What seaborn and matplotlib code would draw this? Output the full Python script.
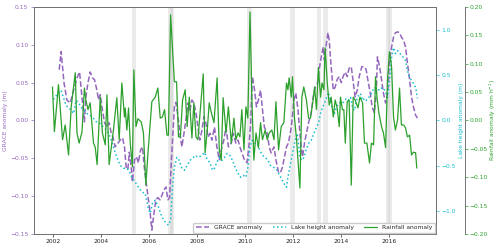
import pandas as pd
import seaborn as sns
import matplotlib
matplotlib.use('Agg')
import matplotlib.pyplot as plt

# GRACE anomaly (m), decimal years
grace_t = [2002.25, 2002.33, 2002.45, 2002.57, 2002.71, 2002.85, 2002.99, 2003.10, 2003.17, 2003.24,
           2003.30, 2003.36, 2003.45, 2003.54, 2003.64, 2003.72, 2003.82, 2003.89, 2003.96, 2004.05,
           2004.14, 2004.24, 2004.33, 2004.42, 2004.49, 2004.58, 2004.70, 2004.79, 2004.89, 2004.97,
           2005.04, 2005.11, 2005.17, 2005.25, 2005.30, 2005.39, 2005.47, 2005.55, 2005.64, 2005.72,
           2005.80, 2005.86, 2005.95, 2006.04, 2006.11, 2006.20, 2006.28, 2006.36, 2006.45, 2006.53,
           2006.61, 2006.70, 2006.78, 2006.85, 2006.92, 2006.99, 2007.05, 2007.11, 2007.20, 2007.28,
           2007.36, 2007.45, 2007.53, 2007.61, 2007.70, 2007.78, 2007.86, 2007.95, 2008.03, 2008.11,
           2008.20, 2008.28, 2008.36, 2008.45, 2008.54, 2008.61, 2008.72, 2008.82, 2008.92, 2009.03,
           2009.11, 2009.20, 2009.30, 2009.42, 2009.50, 2009.61, 2009.70, 2009.78, 2009.86, 2009.97,
           2010.07, 2010.14, 2010.22, 2010.30, 2010.39, 2010.47, 2010.55, 2010.64, 2010.72, 2010.80,
           2010.92, 2011.00, 2011.08, 2011.20, 2011.28, 2011.39, 2011.47, 2011.55, 2011.64, 2011.72,
           2011.80, 2011.92, 2012.03, 2012.11, 2012.20, 2012.28, 2012.33, 2012.39, 2012.47, 2012.55,
           2012.67, 2012.75, 2012.83, 2012.92, 2013.00, 2013.08, 2013.17, 2013.25, 2013.30, 2013.36,
           2013.45, 2013.50, 2013.58, 2013.67, 2013.75, 2013.83, 2013.92, 2014.00, 2014.08, 2014.17,
           2014.25, 2014.33, 2014.42, 2014.50, 2014.58, 2014.67, 2014.75, 2014.86, 2014.96, 2015.04,
           2015.13, 2015.21, 2015.29, 2015.38, 2015.46, 2015.51, 2015.60, 2015.68, 2015.76, 2015.85,
           2015.93, 2016.01, 2016.10, 2016.18, 2016.26, 2016.35, 2016.43, 2016.51, 2016.60, 2016.68,
           2016.76, 2016.85, 2016.93, 2017.01, 2017.10, 2017.18]
grace_v = [0.067, 0.091, 0.050, 0.027, 0.023, 0.040, 0.056, 0.064, 0.040, 0.018,
           -0.002, 0.031, 0.050, 0.064, 0.056, 0.054, 0.040, 0.027, 0.034, 0.014,
           -0.003, -0.009, -0.003, -0.017, -0.022, -0.035, -0.030, -0.026, -0.023, -0.035,
           -0.062, -0.065, -0.042, -0.062, -0.081, -0.052, -0.048, -0.056, -0.039, -0.035,
           -0.063, -0.079, -0.101, -0.122, -0.145, -0.122, -0.105, -0.102, -0.105, -0.099,
           -0.092, -0.088, -0.105, -0.102, -0.056, -0.017, 0.018, 0.024, 0.005, -0.017,
           -0.035, -0.017, 0.001, 0.023, 0.014, 0.027, 0.023, 0.010, -0.009, -0.026,
           -0.013, 0.005, -0.003, -0.022, -0.017, -0.026, -0.009, -0.035, -0.052, -0.035,
           -0.026, -0.009, -0.035, -0.030, -0.017, -0.030, -0.026, -0.035, -0.043, -0.052,
           -0.056, -0.039, -0.009, 0.058, 0.040, 0.018, 0.027, 0.040, 0.014, -0.009,
           -0.017, -0.035, -0.043, -0.035, -0.052, -0.069, -0.069, -0.062, -0.048, -0.035,
           -0.030, -0.009, 0.027, 0.036, 0.014, -0.017, -0.035, -0.048, -0.030, -0.017,
           0.001, 0.010, 0.031, 0.044, 0.047, 0.067, 0.084, 0.097, 0.080, 0.097,
           0.116, 0.106, 0.071, 0.040, 0.044, 0.054, 0.058, 0.050, 0.058, 0.064,
           0.058, 0.069, 0.071, 0.051, 0.031, 0.040, 0.058, 0.071, 0.071, 0.067,
           0.050, 0.036, 0.018, 0.010, 0.036, 0.084, 0.071, 0.054, 0.036, 0.023,
           0.036, 0.080, 0.097, 0.110, 0.116, 0.117, 0.116, 0.110, 0.106, 0.097,
           0.076, 0.054, 0.031, 0.018, 0.007, 0.003]

# Lake height anomaly (m)
lake_t = [2002.01, 2002.13, 2002.22, 2002.33, 2002.43, 2002.53, 2002.64, 2002.75, 2002.85, 2002.95,
          2003.05, 2003.17, 2003.28, 2003.40, 2003.54, 2003.68, 2003.82, 2003.96, 2004.10, 2004.24,
          2004.38, 2004.51, 2004.65, 2004.79, 2004.93, 2005.07, 2005.14, 2005.28, 2005.42, 2005.55,
          2005.70, 2005.83, 2005.95, 2006.04, 2006.14, 2006.25, 2006.39, 2006.53, 2006.67, 2006.80,
          2006.89, 2006.97, 2007.05, 2007.15, 2007.25, 2007.36, 2007.47, 2007.58, 2007.70, 2007.80,
          2007.92, 2008.05, 2008.20, 2008.30, 2008.40, 2008.54, 2008.64, 2008.72, 2008.80, 2008.92,
          2009.03, 2009.14, 2009.25, 2009.36, 2009.47, 2009.58, 2009.70, 2009.80, 2009.92, 2010.03,
          2010.11, 2010.20, 2010.28, 2010.39, 2010.50, 2010.61, 2010.72, 2010.83, 2010.95, 2011.05,
          2011.17, 2011.28, 2011.39, 2011.50, 2011.61, 2011.72, 2011.78, 2011.89, 2012.00, 2012.08,
          2012.17, 2012.22, 2012.28, 2012.36, 2012.45, 2012.53, 2012.64, 2012.75, 2012.86, 2012.97,
          2013.05, 2013.14, 2013.22, 2013.30, 2013.39, 2013.47, 2013.55, 2013.64, 2013.72, 2013.80,
          2013.89, 2013.97, 2014.05, 2014.14, 2014.22, 2014.30, 2014.39, 2014.47, 2014.55, 2014.64,
          2014.72, 2014.80, 2014.89, 2014.97, 2015.04, 2015.15, 2015.26, 2015.38, 2015.49, 2015.60,
          2015.71, 2015.82, 2015.93, 2016.01, 2016.10, 2016.18, 2016.26, 2016.35, 2016.43, 2016.51,
          2016.60, 2016.68, 2016.76, 2016.85, 2016.93, 2017.01, 2017.10, 2017.18]
lake_v = [0.231, 0.275, 0.308, 0.330, 0.253, 0.165, 0.143, 0.110, 0.077, 0.220,
          0.198, 0.143, 0.110, 0.077, 0.055, 0.022, -0.022, -0.033, -0.077, -0.110,
          -0.187, -0.297, -0.407, -0.495, -0.527, -0.527, -0.549, -0.626, -0.681, -0.736,
          -0.791, -0.802, -0.956, -1.022, -0.912, -0.879, -0.956, -1.066, -1.121, -1.154,
          -1.099, -0.736, -0.516, -0.407, -0.440, -0.527, -0.549, -0.495, -0.440, -0.418,
          -0.385, -0.407, -0.385, -0.352, -0.418, -0.473, -0.549, -0.527, -0.473, -0.407,
          -0.440, -0.407, -0.363, -0.385, -0.440, -0.516, -0.582, -0.626, -0.604, -0.626,
          -0.516, -0.297, -0.220, -0.253, -0.253, -0.330, -0.385, -0.407, -0.440, -0.495,
          -0.516, -0.527, -0.582, -0.637, -0.692, -0.736, -0.626, -0.473, -0.330, -0.220,
          -0.143, -0.253, -0.407, -0.440, -0.407, -0.330, -0.253, -0.220, -0.143, -0.077,
          -0.033, 0.077, 0.143, 0.187, 0.253, 0.308, 0.220, 0.110, 0.077, 0.143,
          0.187, 0.198, 0.187, 0.220, 0.242, 0.220, 0.253, 0.143, 0.110, 0.220,
          0.275, 0.297, 0.220, 0.242, 0.220, 0.253, 0.297, 0.363, 0.352, 0.330,
          0.363, 0.330, 0.253, 0.440, 0.692, 0.802, 0.736, 0.769, 0.747, 0.714,
          0.692, 0.659, 0.549, 0.473, 0.440, 0.407, 0.363, 0.242]

# Rainfall anomaly (mm/h)
rain_t = [2001.97, 2002.05, 2002.22, 2002.39, 2002.50, 2002.64, 2002.75, 2002.92, 2002.99, 2003.08,
          2003.20, 2003.30, 2003.36, 2003.45, 2003.54, 2003.68, 2003.75, 2003.83, 2003.96, 2004.05,
          2004.17, 2004.24, 2004.33, 2004.51, 2004.65, 2004.75, 2004.86, 2004.97, 2005.00, 2005.07,
          2005.14, 2005.21, 2005.30, 2005.36, 2005.45, 2005.53, 2005.67, 2005.76, 2005.86, 2005.95,
          2006.11, 2006.25, 2006.36, 2006.46, 2006.55, 2006.64, 2006.74, 2006.80, 2006.89, 2007.05,
          2007.14, 2007.22, 2007.30, 2007.39, 2007.50, 2007.58, 2007.67, 2007.78, 2007.86, 2007.95,
          2008.03, 2008.14, 2008.25, 2008.33, 2008.42, 2008.50, 2008.58, 2008.70, 2008.83, 2008.92,
          2009.00, 2009.08, 2009.20, 2009.30, 2009.42, 2009.53, 2009.61, 2009.70, 2009.78, 2009.86,
          2009.95, 2010.03, 2010.11, 2010.20, 2010.28, 2010.36, 2010.45, 2010.55, 2010.64, 2010.72,
          2010.83, 2010.92, 2011.00, 2011.11, 2011.20, 2011.28, 2011.39, 2011.50, 2011.61, 2011.72,
          2011.78, 2011.83, 2011.92, 2011.97, 2012.05, 2012.14, 2012.20, 2012.28, 2012.36, 2012.44,
          2012.55, 2012.64, 2012.72, 2012.83, 2012.89, 2012.97, 2013.05, 2013.14, 2013.20, 2013.28,
          2013.33, 2013.42, 2013.50, 2013.58, 2013.67, 2013.75, 2013.83, 2013.92, 2013.97, 2014.05,
          2014.11, 2014.17, 2014.25, 2014.33, 2014.42, 2014.50, 2014.58, 2014.70, 2014.78, 2014.89,
          2014.97, 2015.07, 2015.18, 2015.26, 2015.35, 2015.43, 2015.49, 2015.57, 2015.68, 2015.76,
          2015.85, 2015.93, 2016.01, 2016.10, 2016.18, 2016.26, 2016.35, 2016.43, 2016.51, 2016.60,
          2016.68, 2016.76, 2016.85, 2016.93, 2017.01, 2017.10, 2017.15]
rain_v = [0.059, -0.020, 0.063, -0.034, -0.008, -0.061, 0.024, 0.084, -0.022, -0.040,
          -0.020, 0.057, 0.036, 0.019, 0.031, -0.040, -0.047, -0.078, 0.041, -0.022,
          -0.043, 0.045, -0.078, -0.017, 0.040, -0.034, 0.066, 0.006, 0.022, -0.017,
          0.022, -0.040, -0.082, 0.089, -0.011, 0.003, -0.003, -0.022, -0.114, -0.057,
          0.033, 0.041, 0.057, 0.004, 0.006, 0.019, -0.026, -0.026, 0.186, 0.068,
          0.068, -0.029, -0.029, 0.036, 0.054, -0.011, 0.041, -0.031, 0.031, -0.029,
          -0.034, 0.024, 0.082, -0.057, -0.017, 0.031, 0.015, -0.004, 0.075, -0.052,
          -0.070, 0.040, -0.022, 0.024, -0.040, 0.004, -0.034, -0.022, -0.029, 0.019,
          -0.052, 0.024, 0.004, 0.191, 0.036, -0.070, -0.022, -0.048, -0.004, -0.034,
          -0.017, -0.034, -0.022, -0.017, -0.034, 0.033, -0.052, -0.011, -0.004, 0.066,
          0.054, 0.075, 0.041, 0.077, 0.006, -0.034, -0.070, -0.119, 0.041, 0.059,
          0.036, 0.004, 0.004, 0.036, 0.059, 0.019, 0.093, 0.041, 0.066, 0.054,
          0.128, 0.066, 0.027, 0.041, 0.006, 0.036, 0.022, -0.011, 0.041, 0.019,
          0.019, -0.040, 0.033, 0.036, -0.114, 0.041, 0.036, 0.022, 0.041, 0.031,
          -0.040, -0.040, -0.075, -0.040, -0.043, 0.077, 0.041, 0.013, -0.011, -0.022,
          -0.048, 0.071, 0.121, 0.094, 0.006, -0.017, 0.001, 0.057, -0.008, -0.008,
          -0.013, -0.029, -0.026, -0.061, -0.056, -0.057, -0.084]

# shaded event periods (start, end)
band_start = [2005.29, 2006.80, 2006.88, 2010.07, 2011.88, 2012.99, 2013.24, 2015.87, 2015.93]
band_end = [2005.46, 2007.00, 2007.05, 2010.28, 2012.07, 2013.15, 2013.43, 2016.05, 2016.11]

years = [2002, 2004, 2006, 2008, 2010, 2012, 2014, 2016]

grace_col = '#9467bd'
lake_col = '#17becf'
rain_col = '#2ca02c'

df_grace = pd.DataFrame({'t': grace_t, 'v': grace_v})
df_lake = pd.DataFrame({'t': lake_t, 'v': lake_v})
df_rain = pd.DataFrame({'t': rain_t, 'v': rain_v})

sns.set_style('ticks')
plt.rcParams['font.family'] = ['DejaVu Sans']
fs = 4.3

fig = plt.figure(figsize=(5, 2.47), dpi=100)
ax = fig.add_axes([0.068, 0.053, 0.804, 0.919])
ax2 = ax.twinx()
ax3 = ax.twinx()
ax3.spines['right'].set_position(('axes', 1.072))

for s, e in zip(band_start, band_end):
    ax.axvspan(s, e, color='0.75', alpha=0.3, lw=0)

sns.lineplot(data=df_grace, x='t', y='v', ax=ax, color=grace_col, lw=1.1,
             linestyle='--', label='GRACE anomaly', legend=False)
sns.lineplot(data=df_lake, x='t', y='v', ax=ax2, color=lake_col, lw=1.1,
             linestyle=':', label='Lake height anomaly', legend=False)
sns.lineplot(data=df_rain, x='t', y='v', ax=ax3, color=rain_col, lw=0.9,
             label='Rainfall anomaly', legend=False)

ax.set_xlim(2001.2, 2017.95)
ax.set_ylim(-0.15, 0.15)
ax2.set_ylim(-1.25, 1.25)
ax3.set_ylim(-0.2, 0.2)
ax.set_xticks(years)
ax.set_xticklabels([str(y) for y in years])
ax.set_yticks([-0.15, -0.10, -0.05, 0.00, 0.05, 0.10, 0.15])
ax2.set_yticks([-1.0, -0.5, 0.0, 0.5, 1.0])
ax3.set_yticks([-0.20, -0.15, -0.10, -0.05, 0.00, 0.05, 0.10, 0.15, 0.20])
ax.set_yticklabels([f'{v:.2f}'.replace('-', '\u2212') for v in ax.get_yticks()])
ax2.set_yticklabels([f'{v:.1f}'.replace('-', '\u2212') for v in ax2.get_yticks()])
ax3.set_yticklabels([f'{v:.2f}'.replace('-', '\u2212') for v in ax3.get_yticks()])

ax.set_xlabel('')
ax.set_ylabel('GRACE anomaly (m)', color=grace_col, fontsize=fs, labelpad=1.5)
ax2.set_ylabel('Lake height anomaly (m)', color=lake_col, fontsize=fs, labelpad=2)
ax3.set_ylabel('Rainfall anomaly (mm h$^{-1}$)', color=rain_col, fontsize=fs, labelpad=0)

ax.tick_params(axis='x', labelsize=fs, length=2, width=0.5, pad=2)
ax.tick_params(axis='y', labelsize=fs, length=2, width=0.5, pad=2, colors=grace_col)
ax2.tick_params(axis='y', labelsize=fs, length=2, width=0.5, pad=2, colors=lake_col)
ax3.tick_params(axis='y', labelsize=fs, length=2, width=0.5, pad=1.5, colors=rain_col)

for a in (ax, ax2, ax3):
    for sp in a.spines.values():
        sp.set_linewidth(0.7)
        sp.set_color('0.45')
ax3.spines['left'].set_visible(False)
ax3.spines['top'].set_visible(False)
ax3.spines['bottom'].set_visible(False)

handles = []
labels = []
for a in (ax, ax2, ax3):
    h, l = a.get_legend_handles_labels()
    handles += h
    labels += l
ax3.legend(handles, labels, loc='lower right', ncol=3, fontsize=fs,
           frameon=True, borderaxespad=0.2, handlelength=2.2, columnspacing=1.8,
           handletextpad=0.8, borderpad=0.4, framealpha=1, edgecolor='0.8')

fig.savefig('out.png', dpi=100)
